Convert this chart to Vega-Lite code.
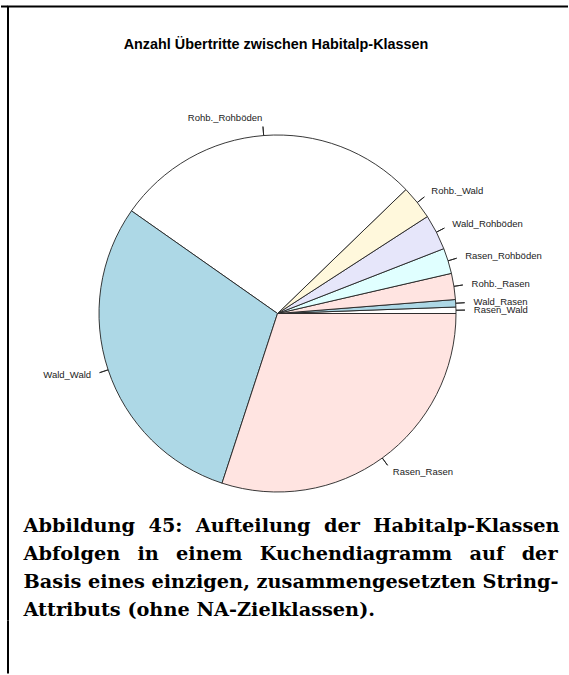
{
  "$schema": "https://vega.github.io/schema/vega-lite/v6.json",
  "background": "white",
  "padding": {"left": 0, "top": 5.5, "right": 0, "bottom": 0},
  "bounds": "flush",
  "spacing": 0,
  "columns": 3,
  "config": {"view": {"stroke": null}},
  "title": {
    "text": [
      "Abbildung\u00a0\u00a045:\u00a0\u00a0Aufteilung\u00a0\u00a0der\u00a0\u00a0Habitalp-Klassen",
      "Abfolgen\u00a0\u00a0\u2009in\u00a0\u00a0\u2009einem\u00a0\u00a0\u2009Kuchendiagramm\u00a0\u00a0\u2009auf\u00a0\u00a0\u2009der",
      "Basis eines einzigen, zusammengesetzten String-",
      "Attributs (ohne NA-Zielklassen)."
    ],
    "orient": "bottom",
    "anchor": "start",
    "baseline": "alphabetic",
    "offset": -143,
    "dx": 23.5,
    "font": "DejaVu Serif",
    "fontSize": 19.3,
    "fontWeight": "bold",
    "color": "black",
    "lineHeight": 28.3
  },
  "concat": [
    {
      "width": 6.5,
      "height": 50,
      "view": {"stroke": "black", "strokeWidth": 2, "strokeDash": [6.5, 5000]},
      "data": {"values": []},
      "mark": "point"
    },
    {
      "width": 539,
      "height": 614,
      "view": {"stroke": "black", "strokeWidth": 2, "strokeDash": [539, 1153, 614]},
      "title": {
        "text": "Anzahl Übertritte zwischen Habitalp-Klassen",
        "font": "Liberation Sans",
        "fontSize": 14.4,
        "fontWeight": "bold",
        "color": "black",
        "anchor": "middle",
        "frame": "group",
        "baseline": "alphabetic",
        "offset": -56.5,
        "dx": -1.5
      },
      "data": {
        "values": [
          {"Klasse": "Rasen_Wald", "Anzahl": 58},
          {"Klasse": "Wald_Rasen", "Anzahl": 67},
          {"Klasse": "Rohb._Rasen", "Anzahl": 236},
          {"Klasse": "Rasen_Rohböden", "Anzahl": 231},
          {"Klasse": "Wald_Rohböden", "Anzahl": 322},
          {"Klasse": "Rohb._Wald", "Anzahl": 308},
          {"Klasse": "Rohb._Rohböden", "Anzahl": 2803},
          {"Klasse": "Wald_Wald", "Anzahl": 2972},
          {"Klasse": "Rasen_Rasen", "Anzahl": 3003}
        ]
      },
      "transform": [
        {"stack": "Anzahl", "groupby": [], "as": ["v0", "v1"]},
        {"calculate": "(datum.v0 + datum.v1) / 2", "as": "mitte"}
      ],
      "layer": [
        {
          "mark": {"type": "arc", "outerRadius": 178.5, "stroke": "#222222", "strokeWidth": 0.9},
          "encoding": {
            "theta": {"field": "v1", "type": "quantitative", "scale": {"range": [1.5707963, -4.712389]}},
            "theta2": {"field": "v0"},
            "color": {
              "field": "Klasse",
              "type": "nominal",
              "legend": null,
              "scale": {
                "domain": ["Rasen_Wald", "Wald_Rasen", "Rohb._Rasen", "Rasen_Rohböden", "Wald_Rohböden", "Rohb._Wald", "Rohb._Rohböden", "Wald_Wald", "Rasen_Rasen"],
                "range": ["#FFFFFF", "#ADD8E6", "#FFE4E1", "#E0FFFF", "#E6E6FA", "#FFF8DC", "#FFFFFF", "#ADD8E6", "#FFE4E1"]
              }
            }
          }
        },
        {
          "mark": {"type": "arc", "innerRadius": 178.5, "outerRadius": 187.5, "filled": false, "stroke": "#222222", "strokeWidth": 0.9},
          "encoding": {
            "theta": {"field": "mitte", "type": "quantitative"},
            "theta2": {"field": "mitte"}
          }
        },
        {
          "transform": [{"filter": {"not": {"field": "Klasse", "oneOf": ["Rohb._Rohböden", "Wald_Wald"]}}}],
          "mark": {"type": "text", "radius": 196.4, "align": "left", "baseline": "middle", "font": "Liberation Sans", "fontSize": 9.5, "color": "#222222"},
          "encoding": {
            "theta": {"field": "mitte", "type": "quantitative"},
            "text": {"field": "Klasse"}
          }
        },
        {
          "transform": [{"filter": {"field": "Klasse", "oneOf": ["Rohb._Rohböden", "Wald_Wald"]}}],
          "mark": {"type": "text", "radius": 196.4, "align": "right", "baseline": "middle", "font": "Liberation Sans", "fontSize": 9.5, "color": "#222222"},
          "encoding": {
            "theta": {"field": "mitte", "type": "quantitative"},
            "text": {"field": "Klasse"}
          }
        }
      ]
    },
    {
      "width": 21,
      "height": 50,
      "view": {"stroke": "black", "strokeWidth": 2, "strokeDash": [21, 5000]},
      "data": {"values": []},
      "mark": "point"
    },
    {
      "width": 6.5,
      "height": 53,
      "data": {"values": []},
      "mark": "point"
    },
    {
      "width": 539,
      "height": 53,
      "view": {"stroke": "black", "strokeWidth": 2, "strokeDash": [0, 1131, 53]},
      "data": {"values": []},
      "mark": "point"
    }
  ]
}
